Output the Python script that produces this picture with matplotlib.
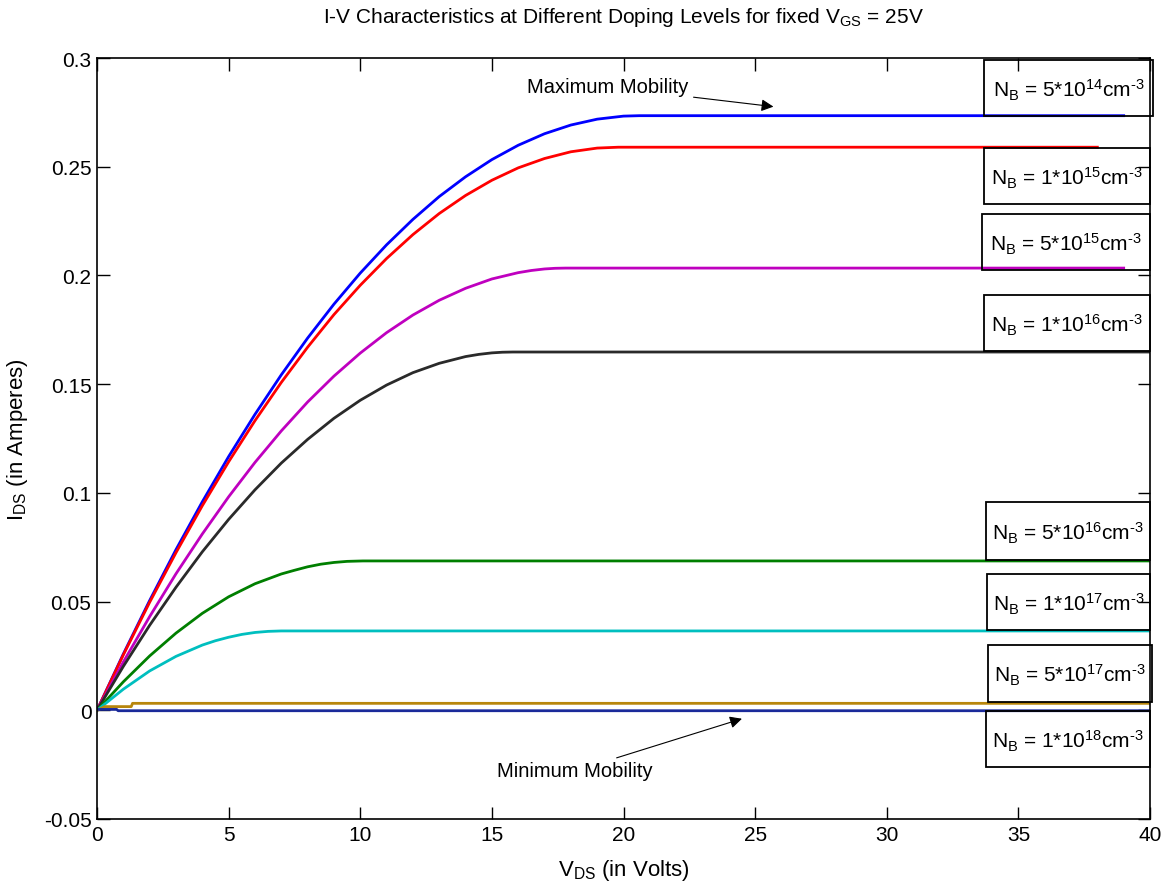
import matplotlib
matplotlib.use('Agg')
import matplotlib.pyplot as plt
from matplotlib.patches import Rectangle

plt.rcParams['font.family'] = ['Liberation Sans', 'DejaVu Sans']
plt.rcParams['mathtext.default'] = 'regular'

# I-V curves (V_DS in volts, I_DS in amperes)
v_blue = [0, 1, 2, 3, 4, 5, 6, 7, 8, 9, 10, 11, 12, 13, 14, 15, 16, 17, 18, 19, 20, 20.6, 39]
i_blue = [0, .0259, .0505, .0739, .0959, .1167, .1361, .1543, .1712, .1868, .2011, .2141,
          .2258, .2363, .2454, .2533, .2599, .2652, .2692, .2719, .2733, .2735, .2735]

v_red = [0, 1, 2, 3, 4, 5, 6, 7, 8, 9, 10, 11, 12, 13, 14, 15, 16, 17, 18, 19, 19.8, 38]
i_red = [0, .0255, .0497, .0725, .0941, .1143, .1332, .1508, .1670, .1820, .1955, .2078,
         .2188, .2285, .2368, .2438, .2495, .2538, .2569, .2586, .2590, .2590]

v_mag = [0, 1, 2, 3, 4, 5, 6, 7, 8, 9, 10, 11, 12, 13, 14, 15, 16, 16.5, 17, 17.4, 17.8, 39]
i_mag = [0, .0222, .0431, .0628, .0811, .0982, .1140, .1285, .1418, .1537, .1643, .1737,
         .1818, .1886, .1941, .1984, .2013, .2023, .2030, .2033, .2034, .2034]

v_blk = [0, 1, 2, 3, 4, 5, 6, 7, 8, 9, 10, 11, 12, 13, 14, 14.5, 15, 15.4, 15.8, 40]
i_blk = [0, .0202, .0391, .0566, .0729, .0878, .1014, .1137, .1246, .1343, .1426, .1496,
         .1553, .1596, .1627, .1637, .1644, .1647, .1648, .1648]

v_grn = [0, 1, 2, 3, 4, 5, 6, 7, 7.5, 8, 8.5, 9, 9.5, 10.1, 40]
i_grn = [0, .0131, .0250, .0355, .0446, .0522, .0582, .0627, .0644, .0660, .0672, .0680,
         .0685, .0687, .0687]

v_cyn = [0, 1, 2, 3, 4, 4.5, 5, 5.5, 6, 6.5, 7, 40]
i_cyn = [0, .0097, .0181, .0248, .0300, .0320, .0336, .0349, .0358, .0363, .0365, .0365]

v_gld = [0, 0.3, 1.3, 1.35, 40]
i_gld = [0, .0017, .0017, .0032, .0032]

v_nav = [0, 0.75, 0.8, 40]
i_nav = [.0004, .0004, -.0002, -.0002]

labels = ['$N_B$ = 5*10$^{14}$cm$^{\u20103}$', '$N_B$ = 1*10$^{15}$cm$^{\u20103}$',
          '$N_B$ = 5*10$^{15}$cm$^{\u20103}$', '$N_B$ = 1*10$^{16}$cm$^{\u20103}$',
          '$N_B$ = 5*10$^{16}$cm$^{\u20103}$', '$N_B$ = 1*10$^{17}$cm$^{\u20103}$',
          '$N_B$ = 5*10$^{17}$cm$^{\u20103}$', '$N_B$ = 1*10$^{18}$cm$^{\u20103}$']
# label boxes (data coords): left, right, bottom, top
box_l = [33.69, 33.69, 33.62, 33.69, 33.77, 33.81, 33.85, 33.77]
box_r = [40.11, 40.0, 40.0, 40.0, 40.0, 40.0, 40.08, 40.0]
box_b = [.2733, .2329, .2025, .1653, .0691, .0369, .0038, -.0261]
box_t = [.2991, .2586, .2283, .1910, .0958, .0627, .0301, -.0003]

fig = plt.figure(figsize=(11.73, 8.95), dpi=100)
ax = fig.add_axes([0.0827, 0.0838, 0.8977, 0.8502])

ax.plot(v_blue, i_blue, color='#0000FF', lw=2)
ax.plot(v_red, i_red, color='#FF0000', lw=2)
ax.plot(v_mag, i_mag, color='#BF00BF', lw=2)
ax.plot(v_blk, i_blk, color='#2A2A2A', lw=2)
ax.plot(v_grn, i_grn, color='#007F00', lw=2)
ax.plot(v_cyn, i_cyn, color='#00BFBF', lw=2)
ax.plot(v_gld, i_gld, color='#B8860B', lw=2)
ax.plot(v_nav, i_nav, color='#1A2A9A', lw=2)

for lab, l, r, b, t in zip(labels, box_l, box_r, box_b, box_t):
    ax.add_patch(Rectangle((l, b), r - l, t - b, fc='none', ec='black', lw=1.3,
                           clip_on=False, zorder=3))
    ax.text((l + r) / 2, (b + t) / 2 - 0.0005, lab, ha='center', va='center',
            fontsize=15, zorder=4)

ax.annotate('Maximum Mobility', xy=(25.8, .2775), xytext=(22.45, .2867),
            ha='right', va='center', fontsize=14.5,
            arrowprops=dict(arrowstyle='-|>', color='black', lw=0.8, mutation_scale=18))
ax.annotate('Minimum Mobility', xy=(24.6, -.0035), xytext=(21.1, -.0279),
            ha='right', va='center', fontsize=14.5,
            arrowprops=dict(arrowstyle='-|>', color='black', lw=0.8, mutation_scale=18))

ax.set_xlim(0, 40)
ax.set_ylim(-0.05, 0.3)
ax.set_xticks(range(0, 41, 5))
yt = [-0.05, 0, 0.05, 0.1, 0.15, 0.2, 0.25, 0.3]
ax.set_yticks(yt)
ax.set_yticklabels(['%g' % t for t in yt])
ax.tick_params(direction='in', length=9, width=1, top=True, right=True, labelsize=15, pad=4)
for s in ax.spines.values():
    s.set_linewidth(1.2)

ax.set_title('I-V Characteristics at Different Doping Levels for fixed $V_{GS}$ = 25V',
             fontsize=15, pad=26)
ax.set_xlabel('$V_{DS}$ (in Volts)', fontsize=16, labelpad=10)
ax.set_ylabel('$I_{DS}$ (in Amperes)', fontsize=16, labelpad=10)

fig.savefig('out.png', dpi=100)
